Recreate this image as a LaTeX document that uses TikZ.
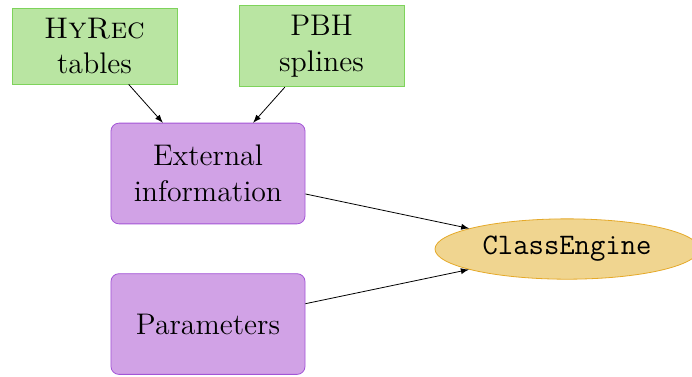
\documentclass[tikz,border=0pt]{standalone}
\usepackage{tikz}
\usetikzlibrary{shapes.geometric}

\definecolor{datagreen}{RGB}{185,229,162}
\definecolor{datagreenline}{RGB}{126,211,91}
\definecolor{inputpurple}{RGB}{209,162,230}
\definecolor{inputpurpleline}{RGB}{163,85,214}
\definecolor{engineyellow}{RGB}{240,213,144}
\definecolor{engineyellowline}{RGB}{229,169,41}

\newcommand{\boxfont}{\fontsize{14.9}{17.9}\selectfont}

\begin{document}
\begin{tikzpicture}
                    [>=latex,
                     datafile/.style={draw=datagreenline,fill=datagreen,align=center,font=\boxfont,minimum width=2.9cm,inner sep=4.9pt},
                     inputbox/.style={draw=inputpurpleline,fill=inputpurple,rounded corners,align=center,font=\boxfont,minimum width=3.41cm,minimum height=1.77cm},
                     engine/.style={ellipse,draw=engineyellowline,fill=engineyellow,font=\boxfont\ttfamily,minimum width=4.64cm,minimum height=1.06cm}]

                    \useasboundingbox (-3.655,-3.559) rectangle (8.505,3.049);

                    % inputs
                    \node[inputbox] (ext) at (0,0) {External\\information};
                    \node[inputbox] (par) at (0,-2.645) {Parameters};

                    % data files
                    \node[datafile] (hyrec) at (-1.995,2.241) {{\scshape HyRec}\\tables};
                    \node[datafile] (pbh) at (1.995,2.241) {PBH\\splines};

                    \node[engine] (class) at (6.309,-1.327) {ClassEngine};

                    \draw[->] (hyrec) -- (ext);
                    \draw[->] (pbh) -- (ext);
                    \draw[->] (ext) -- (class);
                    \draw[->] (par) -- (class);

                \end{tikzpicture}
\end{document}
